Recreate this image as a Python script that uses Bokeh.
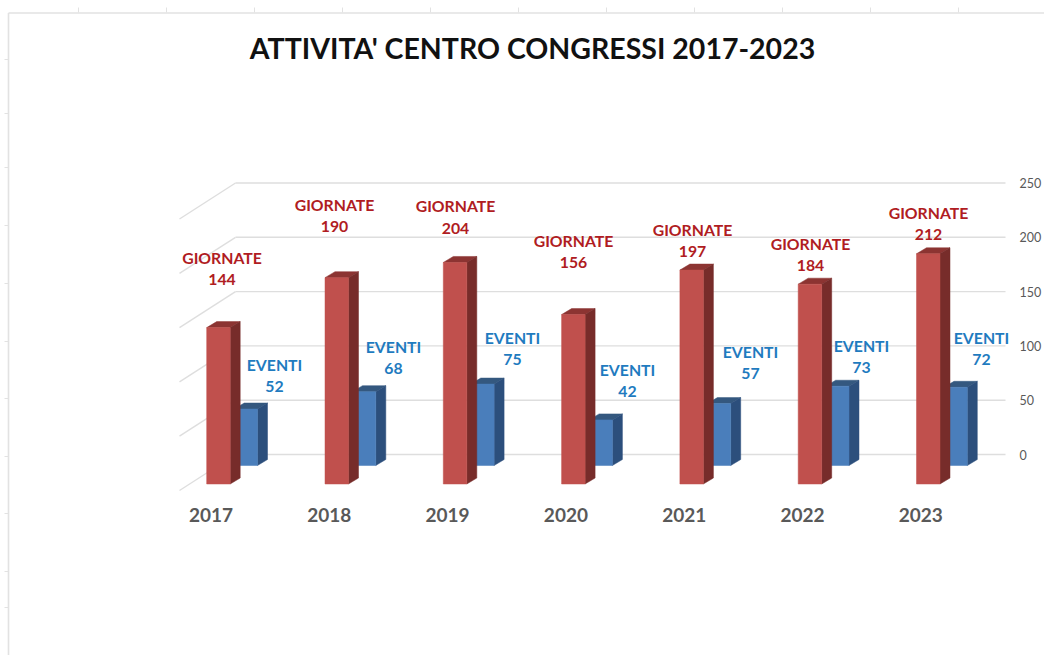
from bokeh.core.properties import value
from bokeh.embed import file_html
from bokeh.models import BasicTickFormatter, ColumnDataSource, FixedTicker, LinearAxis, Range1d
from bokeh.plotting import figure
from bokeh.resources import INLINE

# Chart data
YEARS = [2017, 2018, 2019, 2020, 2021, 2022, 2023]
GIORNATE = [144, 190, 204, 156, 197, 184, 212]
EVENTI = [52, 68, 75, 42, 57, 73, 72]
VALUE_TICKS = [0, 50, 100, 150, 200, 250]
TITLE = "ATTIVITA' CENTRO CONGRESSI 2017-2023"

# Page geometry: pixels per year and per unit of value, and where 2017 / 0 sit
W, H = 1044, 655
PX_PER_YEAR = 118.3
PX_PER_UNIT = 1.086
YEAR_ORIGIN_PX = 210.5
ZERO_PX = 454.0


def xd(px):
    return YEARS[0] + (px - YEAR_ORIGIN_PX) / PX_PER_YEAR


def yd(px):
    return (ZERO_PX - px) / PX_PER_UNIT


def dx(px):
    return px / PX_PER_YEAR


def dy(px):
    return px / PX_PER_UNIT


p = figure(
    width=W, height=H, output_backend="svg", toolbar_location=None,
    x_range=Range1d(xd(0), xd(W)), y_range=Range1d(yd(H), yd(0)),
    min_border=0, min_border_left=0, min_border_right=0, min_border_top=0, min_border_bottom=0,
    x_axis_type=None, y_axis_type=None, outline_line_color=None,
    background_fill_color="white", border_fill_color="white",
)
p.grid.visible = False

# Worksheet edge with its ruler marks
EDGE = "#E2E2E2"
RULER_TOP = [78, 166, 254, 342, 430, 518, 606, 694, 782, 870, 958]
RULER_LEFT = [59, 113, 167, 225, 283, 341, 398, 456, 513, 571, 607]
p.segment(x0=[xd(8)], y0=[yd(12.5)], x1=[xd(W)], y1=[yd(12.5)], line_color=EDGE, line_width=1.6)
p.segment(x0=[xd(8)], y0=[yd(12.5)], x1=[xd(8)], y1=[yd(H)], line_color=EDGE, line_width=1.6)
p.segment(x0=[xd(m) for m in RULER_TOP], y0=[yd(7)] * 11, x1=[xd(m) for m in RULER_TOP], y1=[yd(12)] * 11,
          line_color=EDGE, line_width=1)
p.segment(x0=[xd(4)] * 11, y0=[yd(m) for m in RULER_LEFT], x1=[xd(8)] * 11, y1=[yd(m) for m in RULER_LEFT],
          line_color=EDGE, line_width=1)

# Back wall gridlines and their continuation down the side wall
GRID = "#DEDEDE"
n = len(VALUE_TICKS)
p.segment(x0=[xd(235)] * n, y0=VALUE_TICKS, x1=[xd(1005)] * n, y1=VALUE_TICKS, line_color=GRID, line_width=1.4)
p.segment(x0=[xd(235)] * n, y0=VALUE_TICKS, x1=[xd(179)] * n, y1=[v - dy(36) for v in VALUE_TICKS],
          line_color=GRID, line_width=1.4)


def draw_bars(values, left_px, width_px, floor_px, front, side, top):
    """Front, side and top faces of one series of extruded bars."""
    depth_x, depth_y = dx(10), dy(6)
    base = yd(floor_px)
    x0 = [y + dx(left_px - YEAR_ORIGIN_PX) for y in YEARS]
    x1 = [x + dx(width_px) for x in x0]
    tops = [base + v for v in values]
    p.patches(
        xs=[[a, a + depth_x, b + depth_x, b] for a, b in zip(x0, x1)],
        ys=[[t, t + depth_y, t + depth_y, t] for t in tops],
        fill_color=top, line_color=top, line_width=0.5,
    )
    p.patches(
        xs=[[b, b + depth_x, b + depth_x, b] for b in x1],
        ys=[[base, base + depth_y, t + depth_y, t] for t in tops],
        fill_color=side, line_color=side, line_width=0.5,
    )
    p.quad(left=x0, right=x1, bottom=[base] * len(values), top=tops,
           fill_color=front, line_color=front, line_width=0.5)


# Blue bars stand behind the red ones, so they go first
draw_bars(EVENTI, 233.7, 23.3, 465, "#4A7EBB", "#2C4F7C", "#34587F")
draw_bars(GIORNATE, 206.2, 23.5, 483.5, "#C0504D", "#772C2A", "#8C3432")

# Hand-placed data labels: centre x and the y of the upper line, in page pixels
RED_LABEL_X = [221.5, 334, 455, 573, 692, 810, 928]
RED_LABEL_Y = [256.5, 203.5, 205, 239.5, 228.5, 242.5, 211.5]
BLUE_LABEL_X = [274, 393, 512, 627, 750, 861, 981]
BLUE_LABEL_Y = [363.5, 345.5, 336.5, 368.5, 350.5, 344.5, 336.5]
LINE_GAP = 22.5
FONT = value("Lato")


def draw_labels(word, values, xs, ys, color):
    src = ColumnDataSource(dict(
        x=[xd(x) for x in xs],
        y1=[yd(y) for y in ys],
        y2=[yd(y + LINE_GAP) for y in ys],
        word=[word] * len(values),
        num=[str(v) for v in values],
    ))
    for y_col, t_col in (("y1", "word"), ("y2", "num")):
        p.text(x="x", y=y_col, text=t_col, source=src, text_color=color, text_font=FONT,
               text_font_style="bold", text_font_size="15.8px", text_align="center", text_baseline="middle")


draw_labels("GIORNATE", GIORNATE, RED_LABEL_X, RED_LABEL_Y, "#B01C22")
draw_labels("EVENTI", EVENTI, BLUE_LABEL_X, BLUE_LABEL_Y, "#1F7BBF")

p.text(x=[xd(532)], y=[yd(47.5)], text=[TITLE], text_color="#111111", text_font=FONT,
       text_font_style="bold", text_font_size="28.5px", text_align="center", text_baseline="middle")

# Value axis, drawn inside the frame to the right of the gridlines
value_axis = LinearAxis(
    ticker=FixedTicker(ticks=VALUE_TICKS), fixed_location=xd(1014),
    axis_line_color=None, major_tick_line_color=None, minor_tick_line_color=None,
    major_label_text_color="#595959", major_label_text_font="Lato",
    major_label_text_font_size="12.5px", major_label_standoff=4,
)
p.add_layout(value_axis, "right")
value_axis.fixed_location = xd(1009)

# Year axis, sitting under the floor of the chart
year_axis = LinearAxis(
    ticker=FixedTicker(ticks=YEARS), fixed_location=yd(498),
    formatter=BasicTickFormatter(use_scientific=False),
    axis_line_color=None, major_tick_line_color=None, minor_tick_line_color=None,
    major_label_text_color="#595959", major_label_text_font="Lato",
    major_label_text_font_style="bold", major_label_text_font_size="19px", major_label_standoff=3,
)
p.add_layout(year_axis, "below")

open("out.html", "w").write(file_html(p, INLINE))
